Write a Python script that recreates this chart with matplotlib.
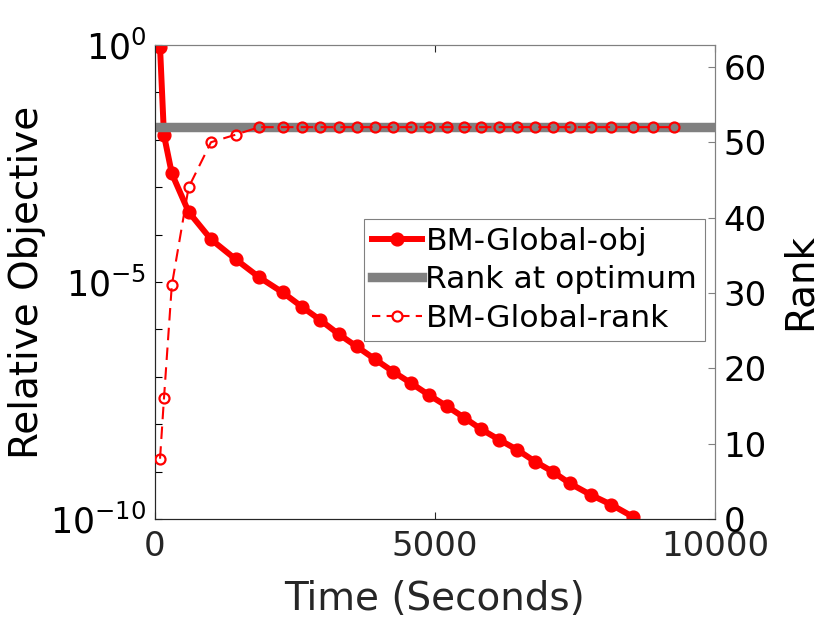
import math
import matplotlib
matplotlib.use("Agg")
import matplotlib.pyplot as plt
from matplotlib.ticker import FixedLocator, FuncFormatter
from matplotlib.lines import Line2D

# ---- data ----
time_s = [90, 160, 300, 600, 1000, 1440, 1860, 2280, 2620, 2950, 3280, 3600,
          3930, 4250, 4580, 4900, 5210, 5520, 5830, 6150, 6470, 6790, 7100,
          7410, 7780, 8150, 8530, 8900, 9270]
rel_obj = [8.91e-1, 1.26e-2, 1.95e-3, 3.02e-4, 7.94e-5, 3.02e-5, 1.26e-5,
           6.03e-6, 3.02e-6, 1.58e-6, 7.94e-7, 4.37e-7, 2.34e-7, 1.29e-7,
           7.24e-8, 4.07e-8, 2.40e-8, 1.38e-8, 7.76e-9, 4.68e-9, 2.88e-9,
           1.62e-9, 1.00e-9, 5.62e-10, 3.24e-10, 2.00e-10, 1.12e-10]
rank = [8, 16, 31, 44, 50, 51, 52, 52, 52, 52, 52, 52, 52, 52, 52, 52, 52,
        52, 52, 52, 52, 52, 52, 52, 52, 52, 52, 52, 52]
rank_opt = 52
labels = ["BM-Global-obj", "Rank at optimum", "BM-Global-rank"]
x_ticks = [0, 5000, 10000]
rank_ticks = [0, 10, 20, 30, 40, 50, 60]

plt.rcParams['font.family'] = ['DejaVu Sans']
plt.rcParams['mathtext.default'] = 'regular'

fig = plt.figure(figsize=(8.3, 6.23), dpi=100)
ax = fig.add_axes([155/830, 1 - 519/623, 560/830, 474/623])
ax2 = ax.twinx()

dark = '#262626'
red = '#ff0000'

ax.plot(time_s[:len(rel_obj)], rel_obj, '-o', color=red, lw=4.3,
        markersize=9.2, markerfacecolor=red, markeredgecolor=red, zorder=3)
ax.set_yscale('log')
ax.set_ylim(1e-10, 1e0)
ax.set_xlim(0, 10000)

ax2.axhline(rank_opt, color='#808080', lw=6.8, zorder=2)
ax2.plot(time_s, rank, '--o', color=red, lw=1.5, dashes=(6, 3.5),
         markersize=7.2, markerfacecolor='none', markeredgecolor=red,
         markeredgewidth=1.6, zorder=3)
ax2.set_ylim(0, 62.9)
ax2.set_xlim(0, 10000)

# ticks
ax.yaxis.set_major_locator(FixedLocator([10.0**k for k in range(-10, 1)]))
ax.yaxis.set_minor_locator(FixedLocator([]))


def fmt(v, pos):
    e = int(round(math.log10(v)))
    return r'$10^{%d}$' % e if e in (0, -5, -10) else ''


ax.yaxis.set_major_formatter(FuncFormatter(fmt))
ax.set_xticks(x_ticks)
ax.set_xticklabels([str(t) for t in x_ticks])
ax2.set_yticks(rank_ticks)

ax.tick_params(axis='x', direction='in', length=5, width=0.8, top=True,
               labelsize=24.5, colors=dark, pad=8)
ax.tick_params(axis='y', direction='in', length=5, width=0.8,
               labelsize=25, colors='black', labelcolor='black', pad=6)
ax2.tick_params(axis='y', direction='in', length=5, width=0.8,
                labelsize=24.5, colors='#808080', labelcolor='black', pad=6)

for s in ['left', 'bottom']:
    ax.spines[s].set_color(dark)
for s in ['top', 'right']:
    ax.spines[s].set_color('#808080')
ax2.spines['right'].set_color('#808080')
ax2.spines['top'].set_color('#808080')
ax2.spines['left'].set_color(dark)
ax2.spines['bottom'].set_color(dark)

ax.set_xlabel('Time (Seconds)', fontsize=28, color=dark, labelpad=12)
ax.set_ylabel('Relative Objective', fontsize=28, color='black', labelpad=3)
ax2.set_ylabel('Rank', fontsize=28, color='black', labelpad=10)

h1 = Line2D([], [], color=red, lw=4.3, marker='o', markersize=9.2,
            markerfacecolor=red)
h2 = Line2D([], [], color='#808080', lw=6.8)
h3 = Line2D([], [], color=red, lw=1.5, ls='--', dashes=(4, 3), marker='o',
            markersize=7.2, markerfacecolor='white', markeredgewidth=1.6)
leg = ax2.legend([h1, h2, h3], labels, loc='upper right',
                 bbox_to_anchor=(705/830, 1 - 219/623),
                 bbox_transform=fig.transFigure, fontsize=22.6,
                 frameon=True, fancybox=False, framealpha=1,
                 edgecolor='#808080', handlelength=1.6, handletextpad=0.1,
                 borderpad=0.25, labelspacing=0.3, borderaxespad=0)
leg.get_frame().set_linewidth(0.8)

fig.savefig('out.png', dpi=100)
